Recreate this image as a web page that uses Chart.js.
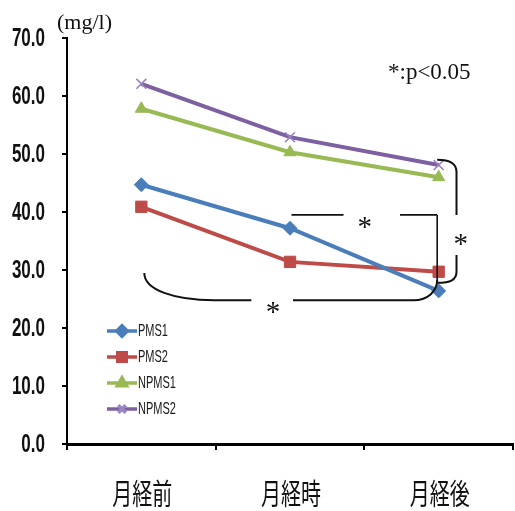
<!DOCTYPE html>
<html>
<head>
<meta charset="utf-8">
<script src="https://cdn.jsdelivr.net/npm/chart.js@4/dist/chart.umd.min.js"></script>
<style>
  html, body { margin: 0; padding: 0; background: #fff; overflow: hidden; }
  #wrap { position: relative; width: 515px; height: 511px; }
</style>
</head>
<body>
<div id="wrap"><canvas id="c" width="515" height="511"></canvas></div>
<script>
// Phases of the cycle (x categories)
const phases = ['月経前', '月経時', '月経後'];

// Mean concentration (mg/l) for each group
const pms1  = [44.7, 37.2, 26.4];
const pms2  = [40.9, 31.4, 29.7];
const npms1 = [57.8, 50.3, 46.0];
const npms2 = [62.1, 52.9, 48.1];

const seriesNames = ['PMS1', 'PMS2', 'NPMS1', 'NPMS2'];
const yTicks = [0, 10, 20, 30, 40, 50, 60, 70];

const unitLabel = '(mg/l)';
const sigNote = '*:p<0.05';

// Significance brackets, in (category index, value) units
const bracketBottom = {
  left:  [[0.02, 29.5], [0.02, 26.6], [0.22, 24.8], [0.49, 24.8]],
  leftEnd: [0.74, 24.8],
  rightStart: [1.02, 24.8],
  right: [[1.83, 24.8], [1.93, 24.8], [1.99, 26.4], [1.99, 28.3]],
  star: [0.886, 23.8]
};
const bracketMiddle = {
  segA: [[1.01, 39.5], [1.36, 39.5]],
  segB: [[1.74, 39.5], [1.99, 39.5], [1.99, 27.9]],
  star: [1.503, 38.4]
};
const bracketRight = {
  top: [[1.99, 49.0], [2.08, 49.0], [2.12, 48.3], [2.12, 46.9]],
  topEnd: [2.12, 39.5],
  lowStart: [2.12, 32.6],
  low: [[2.12, 29.7], [2.12, 28.3], [2.08, 27.8], [1.99, 27.8]],
  star: [2.148, 35.5]
};

const STRETCH = 1.55; // vertical stretch of the axis and legend lettering

function stretchedText(ctx, text, x, y, font, align, sy, color) {
  ctx.save();
  ctx.font = font;
  ctx.textAlign = align;
  ctx.textBaseline = 'middle';
  ctx.fillStyle = color || '#111';
  ctx.translate(x, y);
  ctx.scale(1, sy);
  ctx.fillText(text, 0, 0);
  ctx.restore();
}

const decorations = {
  id: 'decorations',
  afterDraw(chart) {
    const ctx = chart.ctx;
    const xs = chart.scales.x, ys = chart.scales.y;
    const ca = chart.chartArea;
    const P = (p) => [xs.getPixelForValue(p[0]), ys.getPixelForValue(p[1])];

    // y tick labels
    yTicks.forEach(v => {
      stretchedText(ctx, v.toFixed(1), ca.left - 22, ys.getPixelForValue(v) + 1,
        'bold 17px "Liberation Sans", Arial, sans-serif', 'right', STRETCH, '#111');
    });
    // x category labels
    phases.forEach((lab, i) => {
      stretchedText(ctx, lab, xs.getPixelForValue(i) + 1, ca.bottom + 50,
        '20px "Noto Sans CJK JP", sans-serif', 'center', 1.45, '#111');
    });

    // unit and note
    ctx.save();
    ctx.fillStyle = '#111';
    ctx.textAlign = 'left';
    ctx.textBaseline = 'alphabetic';
    ctx.font = '22px "Liberation Serif", "Times New Roman", serif';
    ctx.fillText(unitLabel, ca.left - 10, ca.top - 9);
    ctx.font = '23px "Liberation Serif", "Times New Roman", serif';
    ctx.fillText(sigNote, ca.right - 125, ca.top + 41);
    ctx.restore();

    // legend
    const datasets = chart.data.datasets;
    datasets.forEach((ds, k) => {
      const y = ca.bottom - 113 + 26 * k;
      const x0 = ca.left + 40, x1 = ca.left + 70;
      ctx.save();
      ctx.strokeStyle = ds.borderColor;
      ctx.lineWidth = 3.5;
      ctx.beginPath();
      ctx.moveTo(x0, y);
      ctx.lineTo(x1, y);
      ctx.stroke();
      ctx.fillStyle = ds.pointBackgroundColor;
      ctx.strokeStyle = ds.pointBorderColor;
      Chart.helpers.drawPoint(ctx, {
        pointStyle: ds.pointStyle,
        radius: ds.pointRadius * 0.75,
        rotation: 0,
        borderWidth: ds.pointBorderWidth
      }, (x0 + x1) / 2, y);
      ctx.restore();
      stretchedText(ctx, ds.label, x1 + 1, y, '11px "Liberation Sans", Arial, sans-serif',
        'left', STRETCH, '#1a1a1a');
    });

    // significance brackets
    ctx.save();
    ctx.strokeStyle = '#111';
    ctx.lineWidth = 2;
    ctx.lineCap = 'butt';
    const bez = (pts) => {
      const a = P(pts[0]), b = P(pts[1]), c = P(pts[2]), d = P(pts[3]);
      ctx.moveTo(a[0], a[1]);
      ctx.bezierCurveTo(b[0], b[1], c[0], c[1], d[0], d[1]);
    };
    const line = (a, b) => {
      const p = P(a), q = P(b);
      ctx.moveTo(p[0], p[1]);
      ctx.lineTo(q[0], q[1]);
    };
    ctx.beginPath();
    bez(bracketBottom.left);
    line(bracketBottom.left[3], bracketBottom.leftEnd);
    line(bracketBottom.rightStart, bracketBottom.right[0]);
    bez(bracketBottom.right);
    ctx.stroke();

    ctx.lineWidth = 1.6;
    ctx.beginPath();
    line(bracketMiddle.segA[0], bracketMiddle.segA[1]);
    line(bracketMiddle.segB[0], bracketMiddle.segB[1]);
    line(bracketMiddle.segB[1], bracketMiddle.segB[2]);
    ctx.stroke();

    ctx.lineWidth = 2;
    ctx.beginPath();
    bez(bracketRight.top);
    line(bracketRight.top[3], bracketRight.topEnd);
    line(bracketRight.lowStart, bracketRight.low[0]);
    bez(bracketRight.low);
    ctx.stroke();

    ctx.fillStyle = '#111';
    ctx.font = '29px "Liberation Serif", "Times New Roman", serif';
    ctx.textAlign = 'center';
    ctx.textBaseline = 'alphabetic';
    [bracketBottom.star, bracketMiddle.star, bracketRight.star].forEach(s => {
      const p = P(s);
      ctx.fillText('*', p[0], p[1] + 15);
    });
    ctx.restore();
  }
};

function series(label, data, color, markColor, style, radius, bw) {
  return {
    label, data,
    borderColor: color,
    backgroundColor: color,
    borderWidth: 4,
    pointStyle: style,
    pointRadius: radius,
    pointHoverRadius: radius,
    pointBackgroundColor: markColor,
    pointBorderColor: markColor,
    pointBorderWidth: bw,
    tension: 0,
    fill: false
  };
}

new Chart(document.getElementById('c'), {
  type: 'line',
  data: {
    labels: phases,
    datasets: [
      series(seriesNames[0], pms1,  '#4A7EBB', '#4A7EBB', 'rectRot',  7, 1),
      series(seriesNames[1], pms2,  '#BE4B48', '#BE4B48', 'rect',     8, 1),
      series(seriesNames[2], npms1, '#98B954', '#98B954', 'triangle', 7, 1),
      series(seriesNames[3], npms2, '#7D60A0', '#9A84C2', 'crossRot', 7, 1.6)
    ]
  },
  options: {
    responsive: false,
    animation: false,
    devicePixelRatio: 1,
    layout: { autoPadding: false, padding: { top: 38, right: 2, left: 0, bottom: 0 } },
    plugins: { legend: { display: false }, tooltip: { enabled: false } },
    scales: {
      x: {
        offset: true,
        grid: { offset: true, drawOnChartArea: false, drawTicks: true, tickLength: 6, color: '#000', lineWidth: 2 },
        border: { display: true, color: '#000', width: 3 },
        ticks: { display: false },
        afterFit(scale) { scale.height = 67; }
      },
      y: {
        min: 0, max: 70,
        ticks: { display: false, stepSize: 10 },
        grid: { drawOnChartArea: false, drawTicks: true, tickLength: 5, color: '#000', lineWidth: 2 },
        border: { display: true, color: '#000', width: 2 },
        afterFit(scale) { scale.width = 67; }
      }
    }
  },
  plugins: [decorations]
});
</script>
</body>
</html>
